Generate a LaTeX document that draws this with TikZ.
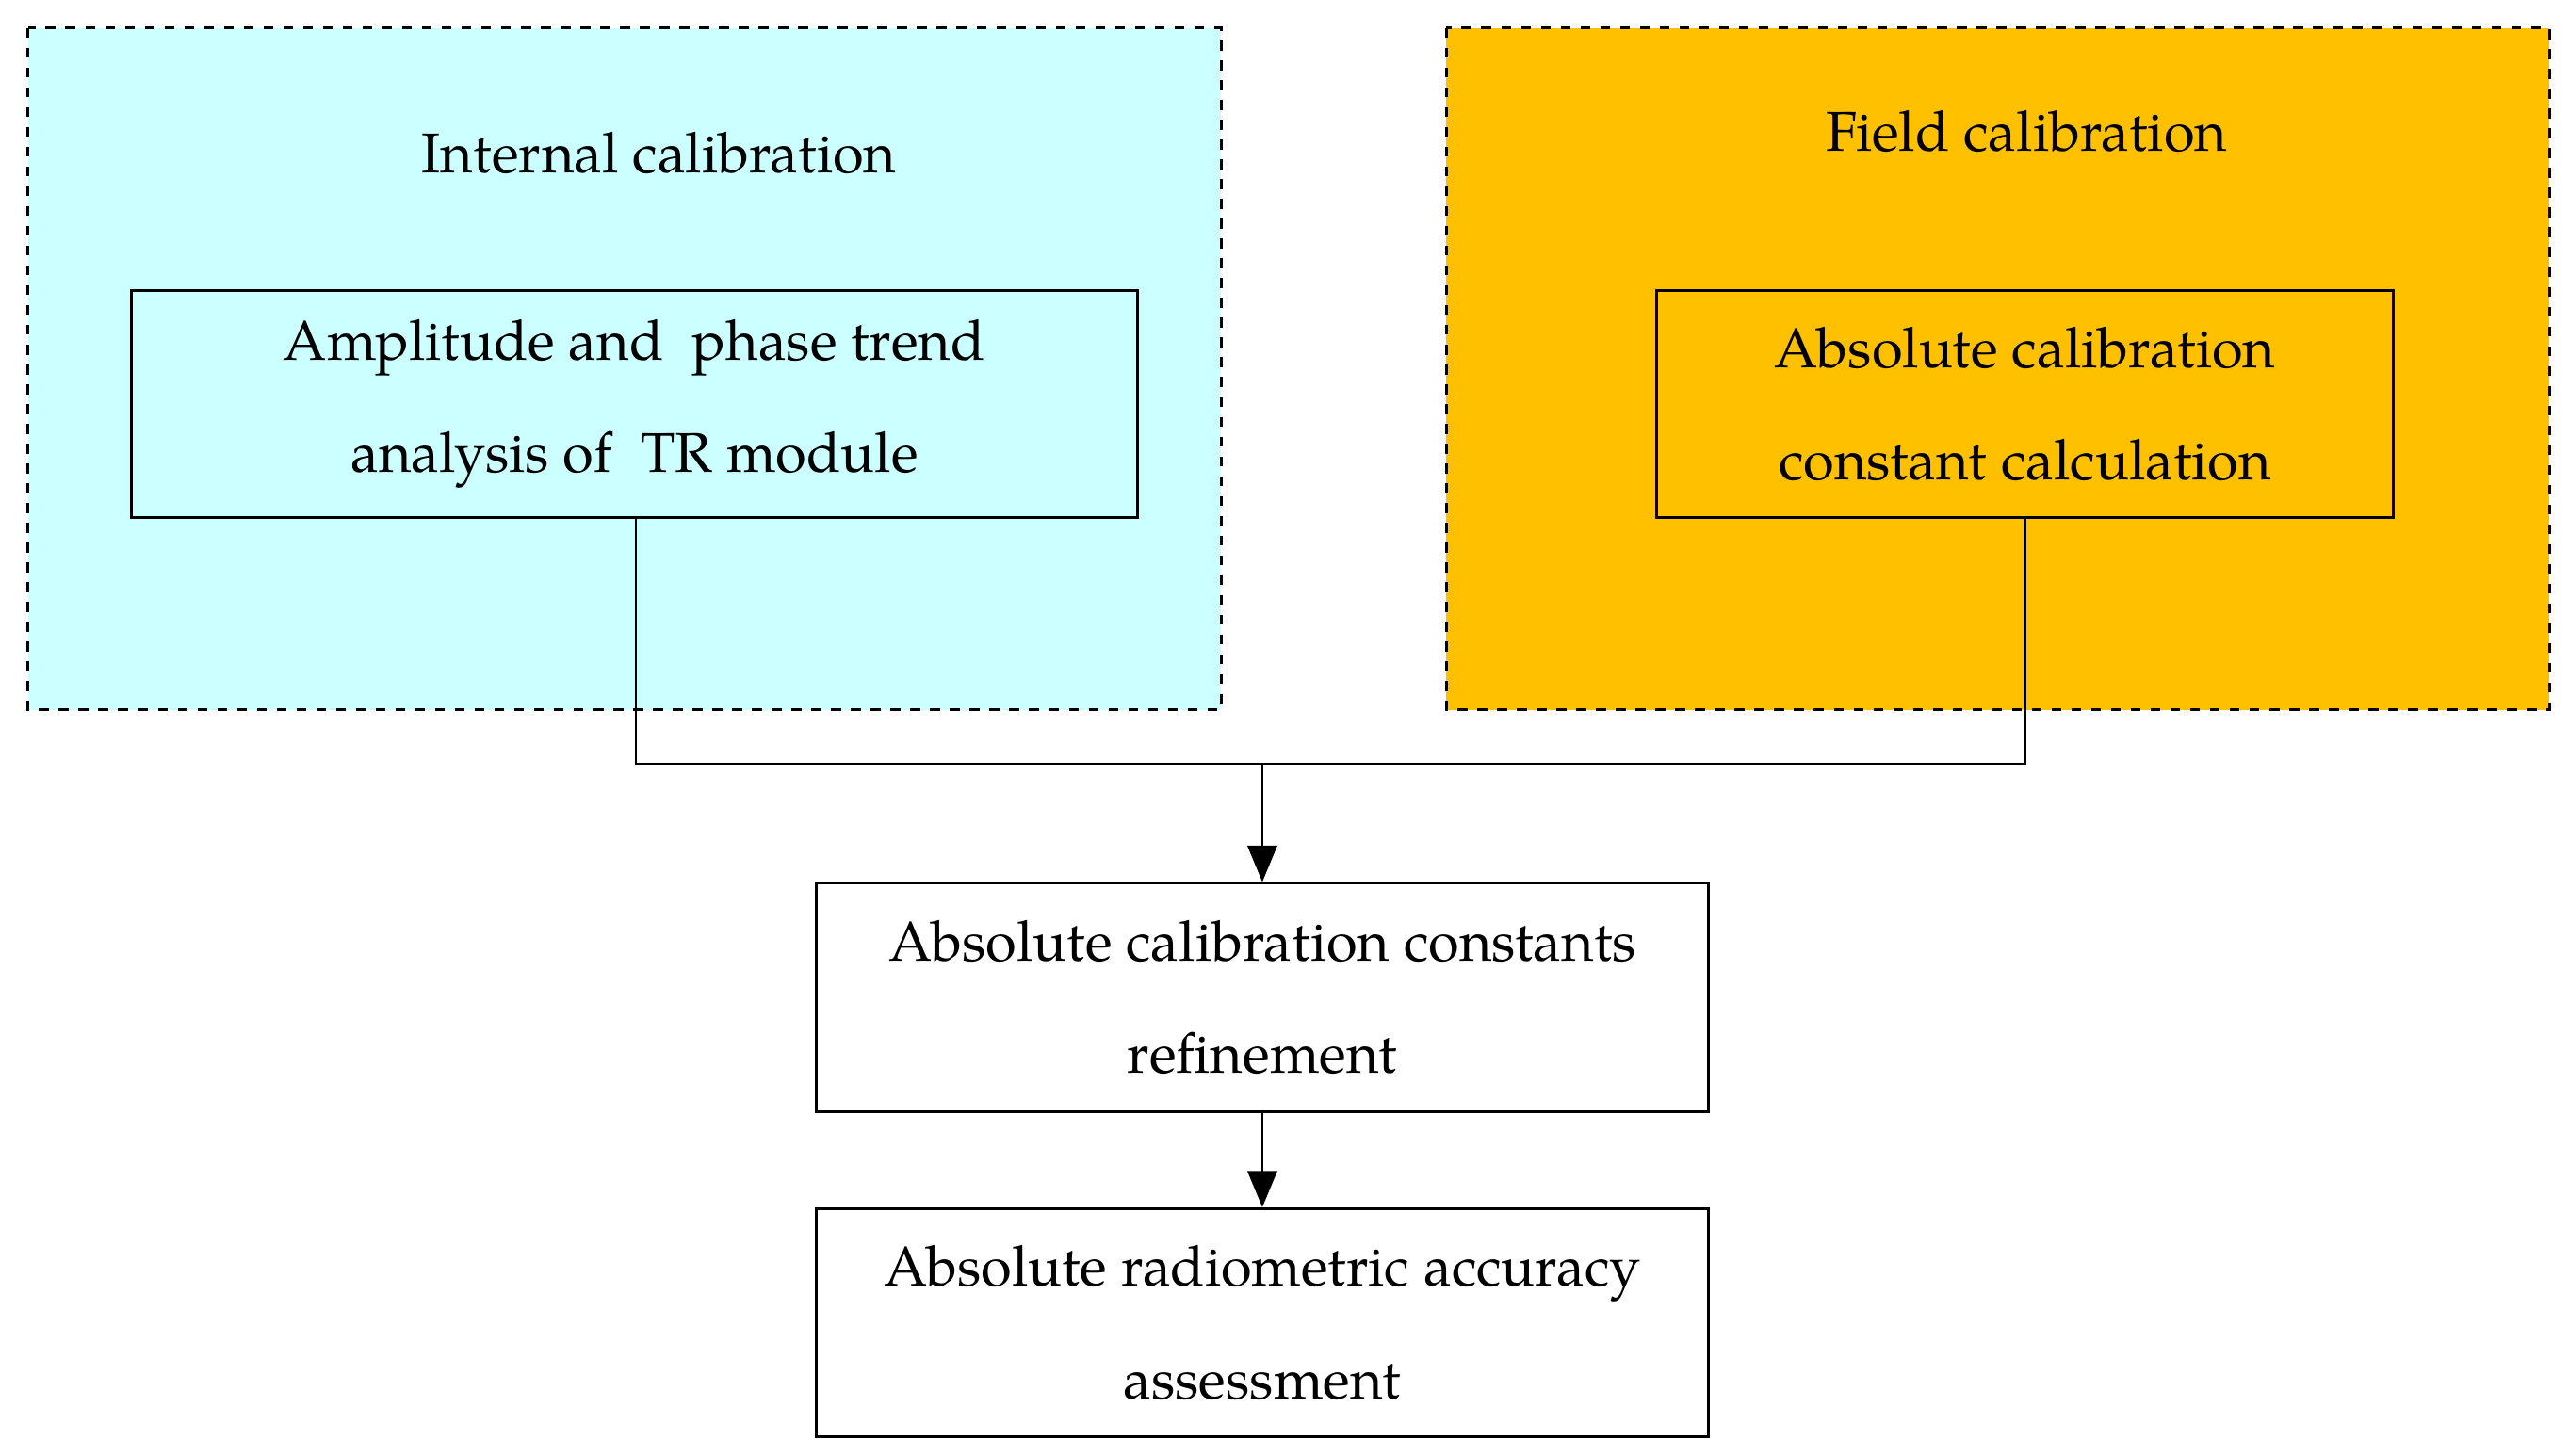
\documentclass[tikz,border=0pt]{standalone}
\usepackage{fontspec}
\setmainfont{TeX Gyre Pagella}
\usetikzlibrary{positioning,arrows.meta}
\definecolor{icyan}{HTML}{CCFFFF}
\definecolor{forange}{HTML}{FFC000}
\tikzset{
  group/.style={draw,dashed,thick},
  stepbox/.style={draw,thick,align=center,inner sep=0pt},
  link/.style={semithick},
  flow/.style={semithick,-{Triangle[length=11pt,width=9pt]}}
}
\begin{document}
\begin{tikzpicture}[x=0.0175cm,y=-0.0175cm,font=\fontsize{17}{34}\selectfont]
  \useasboundingbox (0,0) rectangle (1563,886);
  % calibration groups
  \filldraw[group,fill=icyan] (17,17) rectangle (743,432);
  \filldraw[group,fill=forange] (880,17) rectangle (1551,432);
  \node (intT) at (401,93) {Internal calibration};
  \node (fldT) at (1233,80) {Field calibration};
  % boxes
  \node[stepbox,minimum width=612*0.0175cm,minimum height=138*0.0175cm] (trend) at (386,246)
    {Amplitude and\ \ phase trend\\analysis of\ \ TR module};
  \node[stepbox,minimum width=448*0.0175cm,minimum height=138*0.0175cm] (const) at (1232,246)
    {Absolute calibration\\constant calculation};
  \node[stepbox,minimum width=543*0.0175cm,minimum height=139*0.0175cm] (refine) at (768,607)
    {Absolute calibration constants\\refinement};
  \node[stepbox,minimum width=543*0.0175cm,minimum height=139*0.0175cm] (assess) at (768,805)
    {Absolute radiometric accuracy\\assessment};
  % connectors
  \coordinate (join) at (768,465);
  \draw[link] (trend.south -| 387,0) |- (join) -| (const.south);
  \draw[flow] (join) -- (refine.north);
  \draw[flow] (refine) -- (assess);
\end{tikzpicture}
\end{document}
